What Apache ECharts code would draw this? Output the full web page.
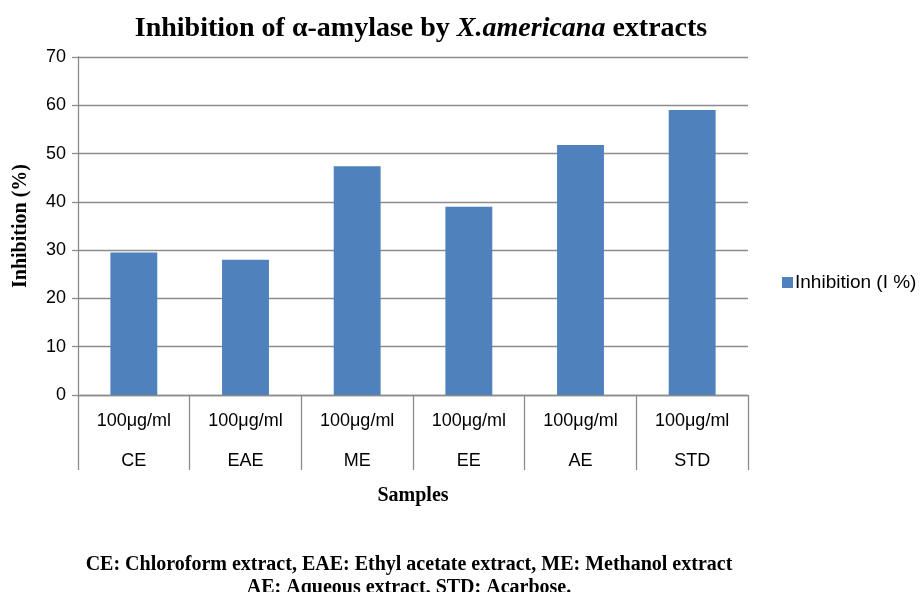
<!DOCTYPE html>
<html>
<head>
<meta charset="utf-8">
<title>Inhibition of α-amylase by X.americana extracts</title>
<script src="https://cdn.jsdelivr.net/npm/echarts@6/dist/echarts.min.js"></script>
<style>
  html, body { margin: 0; padding: 0; background: #fff; }
  #chart { width: 922px; height: 592px; }
</style>
</head>
<body>
<div id="chart"></div>
<script>
// Sample codes, their tested concentration, and % inhibition of α-amylase
const samples = ['CE', 'EAE', 'ME', 'EE', 'AE', 'STD'];
const doses = ['100μg/ml', '100μg/ml', '100μg/ml', '100μg/ml', '100μg/ml', '100μg/ml'];
const inhibition = [29.5, 28.0, 47.4, 39.0, 51.8, 59.0];
const yTicks = { min: 0, max: 70, interval: 10 };

const gridColor = '#8c8c8c';
const serif = '"Liberation Serif", "DejaVu Serif", serif';
const sans = '"Liberation Sans", Arial, sans-serif';

const chart = echarts.init(document.getElementById('chart'), null, { renderer: 'canvas' });

chart.setOption({
  backgroundColor: '#ffffff',
  animation: false,
  title: [
    {
      text: '{b|Inhibition of α-amylase by }{i|X.americana}{b| extracts}',
      left: 416,
      textAlign: 'center',
      top: 10,
      textStyle: {
        rich: {
          b: { fontFamily: serif, fontWeight: 'bold', fontSize: 28, color: '#000' },
          i: { fontFamily: serif, fontWeight: 'bold', fontStyle: 'italic', fontSize: 28, color: '#000' }
        }
      }
    },
    {
      text: 'CE: Chloroform extract, EAE: Ethyl acetate extract, ME: Methanol extract\nAE: Aqueous extract, STD: Acarbose.',
      left: 404,
      textAlign: 'center',
      top: 548,
      textStyle: {
        fontFamily: serif,
        fontWeight: 'bold',
        fontSize: 20,
        lineHeight: 23,
        color: '#000',
        align: 'center'
      }
    }
  ],
  legend: {
    left: 777,
    top: 268,
    orient: 'vertical',
    icon: 'rect',
    itemWidth: 11,
    itemHeight: 11,
    itemGap: 6,
    textStyle: { fontFamily: sans, fontSize: 19, color: '#000', padding: [0, 0, 0, -3] },
    data: ['Inhibition (I %)']
  },
  grid: {
    left: 78,
    right: 174,
    top: 57,
    bottom: 197,
    outerBoundsMode: 'none',
    containLabel: false
  },
  xAxis: {
    type: 'category',
    data: samples,
    boundaryGap: true,
    name: 'Samples',
    nameLocation: 'middle',
    nameGap: 82,
    nameTextStyle: { fontFamily: serif, fontWeight: 'bold', fontSize: 20, color: '#000' },
    axisLine: { show: true, lineStyle: { color: gridColor, width: 1.3 } },
    axisTick: { show: true, interval: 0, length: 75, lineStyle: { color: gridColor, width: 1.3 } },
    axisLabel: {
      interval: 0,
      margin: 6,
      fontFamily: sans,
      fontSize: 18,
      color: '#000',
      lineHeight: 40,
      formatter: (value, idx) => doses[idx] + '\n' + value
    }
  },
  yAxis: {
    type: 'value',
    min: yTicks.min,
    max: yTicks.max,
    interval: yTicks.interval,
    name: 'Inhibition (%)',
    nameLocation: 'middle',
    nameRotate: 90,
    nameGap: 47,
    nameTextStyle: { fontFamily: serif, fontWeight: 'bold', fontSize: 20, color: '#000' },
    axisLine: { show: true, lineStyle: { color: gridColor, width: 1.3 } },
    axisTick: { show: true, length: 6, lineStyle: { color: gridColor, width: 1.3 } },
    axisLabel: { fontFamily: sans, fontSize: 18, color: '#000', margin: 12 },
    splitLine: { show: true, lineStyle: { color: gridColor, width: 1.3 } }
  },
  series: [
    {
      name: 'Inhibition (I %)',
      type: 'bar',
      data: inhibition,
      barWidth: '42%',
      itemStyle: { color: '#4f81bd' }
    }
  ]
});
</script>
</body>
</html>
